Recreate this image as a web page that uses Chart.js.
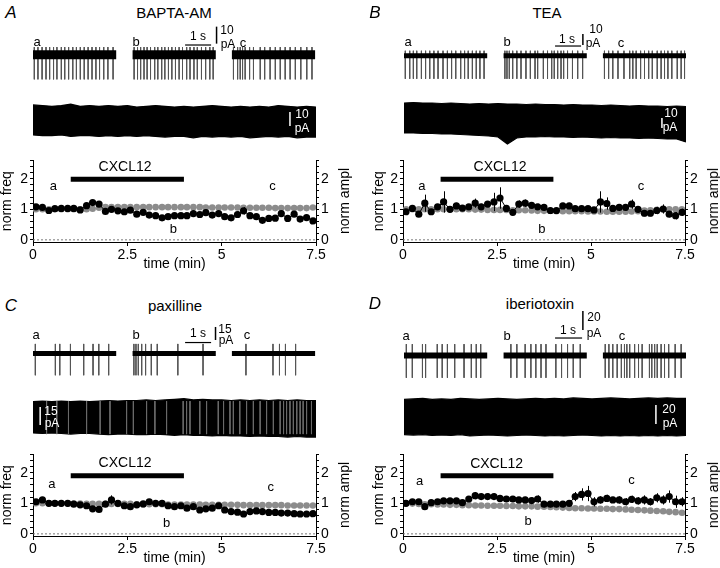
<!DOCTYPE html>
<html>
<head>
<meta charset="utf-8">
<script src="https://cdn.jsdelivr.net/npm/chart.js@4.4.1/dist/chart.umd.min.js"></script>
<style>
  body { margin: 0; width: 720px; height: 568px; position: relative; overflow: hidden; background: #fff;
         font-family: "Liberation Sans", Arial, sans-serif; }
  canvas { position: absolute; }
  .t { position: absolute; white-space: nowrap; line-height: 1; color: #000; }
</style>
</head>
<body>
<script>
// 10 s bin centres (min)
var binTimes = [0.08,0.25,0.42,0.58,0.75,0.92,1.08,1.25,1.42,1.58,1.75,1.92,2.08,2.25,2.42,2.58,2.75,2.92,3.08,3.25,3.42,3.58,3.75,3.92,4.08,4.25,4.42,4.58,4.75,4.92,5.08,5.25,5.42,5.58,5.75,5.92,6.08,6.25,6.42,6.58,6.75,6.92,7.08,7.25,7.42];
var xTicks = [0, 2.5, 5, 7.5];
var yTicks = [0,0.2,0.4,0.6,0.8,1,1.2,1.4,1.6,1.8,2,2.2,2.4,2.6];
var stimWindow = [1, 4];

// A - BAPTA-AM
var freqA = [1.08,1.06,0.96,1.02,1.03,1.03,1.03,0.98,1.12,1.22,1.17,0.93,1.0,0.95,0.92,0.97,0.84,0.9,0.81,0.79,0.72,0.76,0.79,0.79,0.79,0.86,0.83,0.89,0.81,0.86,0.76,0.72,0.83,0.95,0.79,0.76,0.64,0.7,0.71,0.86,0.7,0.84,0.68,0.73,0.62];
var freqErrA = [0.04,0.04,0.04,0.03,0.03,0.03,0.03,0.04,0.05,0.06,0.05,0.05,0.05,0.05,0.06,0.06,0.06,0.06,0.06,0.06,0.06,0.06,0.06,0.06,0.07,0.08,0.08,0.1,0.08,0.08,0.08,0.08,0.1,0.12,0.08,0.08,0.07,0.07,0.08,0.1,0.08,0.08,0.08,0.08,0.07];
var amplA = [1.0,1.0,1.0,1.0,1.0,1.0,1.0,1.0,1.0,1.02,1.05,1.07,1.07,1.07,1.07,1.07,1.07,1.07,1.07,1.07,1.07,1.07,1.07,1.07,1.07,1.07,1.07,1.06,1.06,1.06,1.06,1.06,1.06,1.05,1.05,1.05,1.05,1.05,1.04,1.04,1.04,1.04,1.04,1.04,1.06];
var amplErrA = [0.04,0.04,0.04,0.04,0.04,0.04,0.04,0.04,0.05,0.05,0.05,0.05,0.05,0.05,0.05,0.05,0.05,0.05,0.05,0.05,0.05,0.05,0.05,0.05,0.05,0.05,0.05,0.05,0.05,0.05,0.05,0.05,0.05,0.05,0.05,0.05,0.05,0.05,0.05,0.05,0.05,0.05,0.05,0.05,0.06];

// B - TEA
var freqB = [0.92,1.03,0.84,1.2,0.92,1.08,1.24,1.0,1.11,1.04,1.08,1.2,1.08,1.17,1.24,1.37,1.03,0.9,1.17,1.2,1.13,1.08,1.06,0.96,0.96,1.11,1.11,1.02,1.02,1.02,0.98,1.24,1.19,1.03,1.06,1.06,1.17,1.0,0.87,0.87,0.96,1.01,0.84,0.79,0.9];
var freqErrB = [0.08,0.1,0.08,0.28,0.08,0.08,0.35,0.08,0.1,0.08,0.08,0.15,0.1,0.1,0.3,0.35,0.1,0.08,0.12,0.12,0.1,0.1,0.1,0.08,0.08,0.1,0.1,0.08,0.08,0.08,0.08,0.35,0.2,0.1,0.1,0.1,0.15,0.1,0.1,0.1,0.12,0.15,0.1,0.12,0.12];
var amplB = [1.0,1.0,1.0,1.0,1.0,1.0,1.0,1.0,1.0,1.0,1.0,0.99,0.99,0.98,0.98,0.98,0.98,0.97,0.97,0.97,0.96,0.95,0.95,0.95,0.94,0.94,0.94,0.94,0.94,0.93,0.93,0.93,0.92,0.92,0.92,0.92,0.93,0.94,0.96,0.97,0.98,0.99,1.0,1.0,1.0];
var amplErrB = [0.04,0.04,0.04,0.04,0.04,0.04,0.04,0.04,0.04,0.04,0.04,0.04,0.04,0.04,0.04,0.04,0.04,0.04,0.04,0.04,0.04,0.04,0.04,0.04,0.04,0.04,0.04,0.04,0.04,0.04,0.04,0.04,0.04,0.04,0.04,0.04,0.04,0.04,0.04,0.04,0.04,0.04,0.04,0.04,0.04];

// C - paxilline
var freqC = [1.05,1.11,1.0,1.0,1.0,1.0,0.97,0.95,0.92,0.82,0.8,0.97,1.11,1.0,0.92,0.89,0.95,0.98,1.05,1.0,1.0,0.92,0.89,0.92,0.84,0.89,0.78,0.82,0.84,0.92,0.78,0.73,0.71,0.65,0.73,0.75,0.73,0.7,0.7,0.68,0.68,0.66,0.65,0.65,0.66];
var freqErrC = [0.04,0.05,0.04,0.04,0.04,0.04,0.04,0.05,0.05,0.06,0.06,0.08,0.15,0.08,0.06,0.06,0.06,0.06,0.07,0.06,0.06,0.06,0.06,0.06,0.06,0.07,0.08,0.07,0.07,0.1,0.08,0.08,0.07,0.07,0.08,0.08,0.07,0.07,0.06,0.06,0.06,0.06,0.06,0.06,0.06];
var amplC = [1.0,1.0,1.0,1.0,0.99,0.99,0.99,0.99,0.98,0.98,0.98,0.98,0.98,0.98,0.98,0.98,0.97,0.97,0.97,0.97,0.97,0.96,0.96,0.96,0.96,0.96,0.96,0.95,0.95,0.95,0.95,0.95,0.95,0.94,0.94,0.94,0.94,0.94,0.94,0.94,0.93,0.93,0.93,0.93,0.93];
var amplErrC = [0.03,0.03,0.03,0.03,0.03,0.03,0.03,0.03,0.03,0.03,0.03,0.03,0.03,0.03,0.03,0.03,0.03,0.03,0.03,0.03,0.03,0.03,0.03,0.03,0.03,0.03,0.03,0.03,0.03,0.03,0.03,0.03,0.03,0.03,0.03,0.03,0.03,0.03,0.03,0.03,0.03,0.03,0.03,0.03,0.03];

// D - iberiotoxin
var freqD = [1.0,1.05,1.05,0.89,1.02,1.05,1.08,1.08,1.08,1.02,1.14,1.25,1.22,1.22,1.22,1.16,1.14,1.14,1.11,1.11,1.09,1.14,0.97,0.97,0.97,0.97,1.0,1.22,1.29,1.32,1.05,1.11,1.16,1.11,1.11,1.05,1.13,1.08,1.11,1.05,1.18,1.11,1.22,1.05,1.05];
var freqErrD = [0.04,0.05,0.05,0.06,0.05,0.05,0.06,0.06,0.06,0.06,0.08,0.12,0.1,0.1,0.1,0.1,0.1,0.1,0.1,0.1,0.1,0.12,0.1,0.1,0.1,0.1,0.1,0.15,0.2,0.25,0.15,0.12,0.12,0.1,0.12,0.12,0.12,0.12,0.15,0.12,0.15,0.15,0.2,0.2,0.15];
var amplD = [1.0,0.99,0.98,0.97,0.97,0.96,0.96,0.95,0.95,0.94,0.94,0.93,0.93,0.92,0.92,0.92,0.91,0.91,0.9,0.9,0.9,0.89,0.89,0.88,0.87,0.86,0.85,0.84,0.84,0.83,0.83,0.82,0.82,0.81,0.81,0.8,0.79,0.78,0.77,0.76,0.75,0.74,0.72,0.71,0.69];
var amplErrD = [0.03,0.03,0.03,0.03,0.03,0.03,0.03,0.03,0.03,0.03,0.03,0.03,0.03,0.03,0.03,0.03,0.03,0.03,0.03,0.03,0.03,0.03,0.03,0.03,0.03,0.03,0.03,0.03,0.03,0.03,0.03,0.03,0.03,0.03,0.03,0.03,0.03,0.03,0.03,0.03,0.03,0.03,0.03,0.03,0.03];

// spike times (s) inside the excerpts a, b, c
var spikesA = [
  [0.05,0.19,0.35,0.5,0.64,0.79,0.92,1.09,1.22,1.37,1.53,1.67,1.82,1.97,2.12,2.27,2.42,2.56,2.72,2.88,3.08],
  [0.06,0.19,0.31,0.44,0.56,0.69,0.85,0.97,1.12,1.24,1.38,1.51,1.65,1.79,1.92,2.08,2.21,2.36,2.49,2.65,2.81,2.97,3.1],
  [0.06,0.22,0.32,0.41,0.51,0.68,0.83,1.09,1.26,1.47,1.67,1.86,2.05,2.24,2.44,2.65,2.88,3.08]
];
var spikesB = [
  [0.05,0.22,0.36,0.49,0.67,0.83,0.99,1.15,1.31,1.5,1.67,1.83,1.99,2.18,2.33,2.47,2.63,2.78,2.92,3.08],
  [0.05,0.13,0.22,0.35,0.51,0.67,0.86,1.03,1.21,1.31,1.53,1.69,1.85,1.95,2.08,2.21,2.31,2.46,2.65,2.85,3.04],
  [0.06,0.22,0.38,0.58,0.81,1.03,1.15,1.28,1.45,1.6,1.76,1.9,2.09,2.24,2.37,2.5,2.65,2.86,3.01,3.14]
];
var spikesC = [
  [0.09,0.86,1.03,1.44,1.95,2.31,2.53,2.91],
  [0.05,0.13,0.22,0.35,0.5,0.72,0.95,1.74,2.71],
  [0.54,1.58,1.83,2.06,2.45]
];
var spikesD = [
  [0.09,0.32,0.71,0.83,1.28,1.47,1.67,1.95,2.31,2.59,2.78,2.95],
  [0.28,0.51,0.83,1.05,1.24,1.44,1.63,2.01,2.23,2.46,2.68,2.95],
  [0.09,0.23,0.38,0.55,0.71,0.83,0.92,1.03,1.22,1.37,1.51,1.79,1.88,1.99,2.09,2.24,2.37,2.53,2.78,3.01]
];
var segStart = [0, 3.83, 7.65];   // s
var segLength = 3.2;             // s
var spikeUp = [4.5, 4.5, 11, 12];        // pA
var spikeDown = [-14.5, -21, -25, -23.5]; // pA

// whole recording: envelope of the current (pA around mean)
var longTimes = [0,0.25,0.5,0.75,1,1.25,1.5,1.75,2,2.25,2.5,2.75,3,3.25,3.5,3.75,4,4.25,4.5,4.75,5,5.25,5.5,5.75,6,6.25,6.5,6.75,7,7.25,7.5];
var longTopA = [11.5,11,10.5,11,12,10.5,11,10.5,11,10.5,11,10,10.5,11,10.5,10,10.5,10,10.5,11,10.5,10,10.5,10,10.5,10,11,10.5,10,10.5,10];
var longBotA = [-10,-10.5,-10.5,-10,-11,-10.5,-10.5,-11,-10.5,-11,-10.5,-11,-10.5,-11,-11.5,-11,-11,-12,-11,-11.5,-11,-11.5,-11,-12,-11.5,-11,-11.5,-11,-12,-11.5,-11.5];
var longTopB = [16,16.5,16,16,15.5,16,15.5,15,15.5,15,15.5,15,15,14.5,15,14.5,14.5,14,14.5,14,14,13.5,14,13.5,13,13.5,13,13,12.5,13,12.5];
var longBotB = [-14,-14,-14.5,-14.5,-15,-15,-15.5,-16,-16.5,-17,-18,-25,-19,-18,-18,-17.5,-18,-18,-18.5,-18,-18.5,-19,-18.5,-19,-19,-19.5,-19,-19.5,-20,-20,-23];
var longTopC = [14,14.5,14,14.5,14,14.5,14,14.5,15,14.5,15,15,15.5,15,15.5,16,16.5,15.5,16,15.5,15.5,15,15.5,15,15.5,15,15.5,15,15.5,15,15];
var longBotC = [-12,-12.5,-12,-12.5,-13,-12.5,-12.5,-13,-13.5,-13,-13,-13.5,-13.5,-13,-13.5,-14,-13.5,-14,-14,-14.5,-14,-14.5,-14.5,-15,-14.5,-15,-15,-15.5,-15,-15.5,-15.5];
var longTopD = [18,18.5,19,18,18.5,18,19,18.5,18,18.5,19,18.5,18,18.5,19,18.5,19,18.5,19.5,19,18.5,19,19.5,19,18.5,19,19.5,19,19.5,19,19];
var longBotD = [-19,-19.5,-19,-20,-19.5,-20,-19,-20.5,-20,-19.5,-20,-20.5,-20,-19.5,-20,-20.5,-20,-20.5,-20,-19.5,-20,-20.5,-20,-20.5,-20,-20.5,-20,-20.5,-20,-20.5,-20];
var longSpikesC = [0.36,0.63,0.94,1.42,1.78,2.04,2.48,2.66,3.01,3.23,3.54,3.98,4.07,4.16,4.42,4.6,4.91,5.05,5.22,5.31,5.48,5.66,5.84,6.02,6.19,6.37,6.55,6.64,6.72,6.81,6.9,6.99,7.08,7.16,7.25,7.38];

Chart.defaults.font.family = '"Liberation Sans", Arial, sans-serif';
Chart.defaults.font.weight = 'normal';
Chart.defaults.color = '#000';

var pxPerSecond = 26;

var panels = [
  { letter: 'A', title: 'BAPTA-AM', head: [11, 12, 174, 12],
    freq: freqA, freqErr: freqErrA, ampl: amplA, amplErr: amplErrA,
    spikes: spikesA, up: spikeUp[0], down: spikeDown[0],
    top: longTopA, bot: longBotA, longSpikes: null,
    short: { left: 33, top: 20, w: 283, h: 70, base: 34.7, ppa: 1.7, band: 9,
             sx: [5.85, 6.85], sy: 5.7, vx: 7.06, vy: [6.5, 16.5] },
    shortText: [['a', 37, 41], ['b', 136, 41], ['c', 243, 42], ['1 s', 198, 36], ['10', 227, 30], ['pA', 228, 44]],
    long: { left: 33, top: 95, w: 283, h: 50, mid: 26, ppa: 1.4, bx: 6.81, by: [6.4, -3.6] },
    longText: [['10', 302, 114], ['pA', 302, 128]],
    chart: { left: 0, top: 150, leftW: 33, rightW: 44, titlePad: 0.5, stimY: 1.98,
             notes: [['CXCL12', 2.44, 2.39], ['a', 0.54, 1.76], ['b', 3.72, 0.33], ['c', 6.35, 1.76]] },
    ampTitle: [344, 201] },
  { letter: 'B', title: 'TEA', head: [375, 12, 547, 12],
    freq: freqB, freqErr: freqErrB, ampl: amplB, amplErr: amplErrB,
    spikes: spikesB, up: spikeUp[1], down: spikeDown[1],
    top: longTopB, bot: longBotB, longSpikes: null,
    short: { left: 404, top: 20, w: 282, h: 70, base: 35.7, ppa: 1.1, band: 5,
             sx: [5.81, 6.81], sy: 8.8, vx: 6.88, vy: [9.7, 19.7] },
    shortText: [['a', 408, 41], ['b', 507, 41], ['c', 621, 42], ['1 s', 567, 39], ['10', 596, 29], ['pA', 593, 43]],
    long: { left: 404, top: 95, w: 282, h: 55, mid: 24, ppa: 1.0, bx: 6.86, by: [1, -9] },
    longText: [['10', 671, 113], ['pA', 670, 127]],
    chart: { left: 360, top: 150, leftW: 43, rightW: 35, titlePad: 12, stimY: 1.98,
             notes: [['CXCL12', 2.58, 2.39], ['a', 0.5, 1.76], ['b', 3.69, 0.35], ['c', 6.33, 1.76]] },
    ampTitle: [713, 201] },
  { letter: 'C', title: 'paxilline', head: [11, 305, 175, 305],
    freq: freqC, freqErr: freqErrC, ampl: amplC, amplErr: amplErrC,
    spikes: spikesC, up: spikeUp[2], down: spikeDown[2],
    top: longTopC, bot: longBotC, longSpikes: longSpikesC,
    short: { left: 33, top: 315, w: 283, h: 70, base: 38.5, ppa: 0.87, band: 5,
             sx: [5.85, 6.85], sy: 12.6, vx: 7.02, vy: [15.5, 30.5] },
    shortText: [['a', 36, 334], ['b', 136, 334], ['c', 247, 334], ['1 s', 198, 333], ['15', 225, 329], ['pA', 226, 340]],
    long: { left: 33, top: 392, w: 283, h: 50, mid: 26.5, ppa: 1.2, bx: 0.19, by: [9.6, -5.4] },
    longText: [['15', 51, 411], ['pA', 52, 423]],
    chart: { left: 0, top: 444, leftW: 33, rightW: 44, titlePad: 0.5, stimY: 1.9,
             notes: [['CXCL12', 2.44, 2.33], ['a', 0.5, 1.63], ['b', 3.54, 0.35], ['c', 6.3, 1.53]] },
    ampTitle: [344, 495] },
  { letter: 'D', title: 'iberiotoxin', head: [375, 303, 540, 303],
    freq: freqD, freqErr: freqErrD, ampl: amplD, amplErr: amplErrD,
    spikes: spikesD, up: spikeUp[3], down: spikeDown[3],
    top: longTopD, bot: longBotD, longSpikes: null,
    short: { left: 404, top: 305, w: 282, h: 80, base: 50.5, ppa: 0.95, band: 6,
             sx: [5.81, 6.85], sy: 18.4, vx: 6.88, vy: [26.8, 46.8] },
    shortText: [['a', 406, 335], ['b', 507, 335], ['c', 622, 335], ['1 s', 568, 330], ['20', 594, 317], ['pA', 594, 333]],
    long: { left: 404, top: 390, w: 282, h: 50, mid: 26.5, ppa: 0.95, bx: 6.7, by: [12.1, -7.9] },
    longText: [['20', 669, 409], ['pA', 670, 423]],
    chart: { left: 360, top: 444, leftW: 43, rightW: 35, titlePad: 12, stimY: 1.9,
             notes: [['CXCL12', 2.49, 2.29], ['a', 0.44, 1.7], ['b', 3.33, 0.4], ['c', 6.08, 1.75]] },
    ampTitle: [713, 495] }
];

function makeCanvas(left, top, w, h) {
  var c = document.createElement('canvas');
  c.width = w; c.height = h;
  c.style.left = left + 'px'; c.style.top = top + 'px';
  c.style.width = w + 'px'; c.style.height = h + 'px';
  document.body.appendChild(c);
  return c;
}

function addText(txt, x, y, size, extra) {
  var d = document.createElement('div');
  d.className = 't';
  d.textContent = txt;
  d.style.left = x + 'px';
  d.style.top = y + 'px';
  d.style.fontSize = size + 'px';
  var tr = 'translate(-50%,-50%)';
  if (extra && extra.italic) d.style.fontStyle = 'italic';
  if (extra && extra.color) d.style.color = extra.color;
  if (extra && extra.rot) tr += ' rotate(-90deg)';
  d.style.transform = tr;
  document.body.appendChild(d);
}

function seg(x1, y1, x2, y2) {
  return [{ x: x1, y: y1 }, { x: x2, y: y2 }];
}

var baseOpts = function (xmax, ymin, ymax) {
  return {
    responsive: false, animation: false, devicePixelRatio: 1,
    layout: { padding: 0 },
    plugins: { legend: { display: false }, tooltip: { enabled: false } },
    elements: { point: { radius: 0 }, line: { tension: 0 } },
    scales: {
      x: { type: 'linear', display: false, min: 0, max: xmax },
      y: { display: false, min: ymin, max: ymax }
    }
  };
};

// three short excerpts
function shortTraces(p) {
  var g = p.short;
  var cv = makeCanvas(g.left, g.top, g.w, g.h);
  var base = [], spk = [];
  p.spikes.forEach(function (list, k) {
    var s0 = segStart[k];
    base.push({ x: s0, y: 0 }, { x: s0 + segLength, y: 0 }, { x: s0 + segLength, y: null });
    list.forEach(function (t) {
      spk.push({ x: s0 + t, y: p.up }, { x: s0 + t, y: p.down }, { x: s0 + t, y: null });
    });
  });
  new Chart(cv, {
    type: 'line',
    data: { datasets: [
      { data: seg(g.sx[0], g.sy, g.sx[1], g.sy), borderColor: '#000', borderWidth: 1.2 },
      { data: seg(g.vx, g.vy[0], g.vx, g.vy[1]), borderColor: '#000', borderWidth: 1.5 },
      { data: base, borderColor: '#000', borderWidth: g.band, borderCapStyle: 'butt' },
      { data: spk, borderColor: '#555', borderWidth: 1 }
    ] },
    options: baseOpts(g.w / pxPerSecond, -(g.h - g.base) / g.ppa, g.base / g.ppa)
  });
  p.shortText.forEach(function (s) { addText(s[0], s[1], s[2], s[0].length === 1 ? 13 : 12); });
}

// whole recording
function longTrace(p) {
  var g = p.long;
  var cv = makeCanvas(g.left, g.top, g.w, g.h);
  var upper = longTimes.map(function (t, i) { return { x: t, y: p.top[i] }; });
  var lower = longTimes.map(function (t, i) { return { x: t, y: p.bot[i] }; });
  var overlay = [];
  (p.longSpikes || []).forEach(function (t) {
    overlay.push({ x: t, y: 14.5 }, { x: t, y: -13 }, { x: t, y: null });
  });
  new Chart(cv, {
    type: 'line',
    data: { datasets: [
      { data: seg(g.bx, g.by[0], g.bx, g.by[1]), borderColor: '#fff', borderWidth: 1.5 },
      { data: overlay, borderColor: '#6a6a6a', borderWidth: 1 },
      { data: upper, borderColor: '#000', borderWidth: 1.2, fill: false },
      { data: lower, borderColor: '#000', borderWidth: 1.2, fill: '-1', backgroundColor: '#000' }
    ] },
    options: baseOpts(7.5, -(g.h - g.mid) / g.ppa, g.mid / g.ppa)
  });
  p.longText.forEach(function (s) { addText(s[0], s[1], s[2], 12, { color: '#fff' }); });
}

var errorBars = {
  id: 'errorBars',
  beforeDatasetDraw: function (chart, args) {
    var ds = chart.data.datasets[args.index];
    if (!ds.errors) return;
    var ctx = chart.ctx, xs = chart.scales.x, ys = chart.scales.y;
    ctx.save();
    ctx.strokeStyle = ds.borderColor;
    ctx.lineWidth = 1;
    ds.data.forEach(function (pt, i) {
      var x = Math.round(xs.getPixelForValue(pt.x)) + 0.5;
      ctx.beginPath();
      ctx.moveTo(x, ys.getPixelForValue(pt.y - ds.errors[i]));
      ctx.lineTo(x, ys.getPixelForValue(pt.y + ds.errors[i]));
      ctx.stroke();
    });
    ctx.restore();
  }
};

var notes = {
  id: 'notes',
  afterDatasetsDraw: function (chart, args, opts) {
    var ctx = chart.ctx, xs = chart.scales.x, ys = chart.scales.y;
    ctx.save();
    ctx.fillStyle = '#000';
    ctx.textAlign = 'center';
    ctx.textBaseline = 'middle';
    (opts.items || []).forEach(function (n) {
      ctx.font = (n[0].length > 1 ? 14 : 13) + 'px "Liberation Sans", Arial, sans-serif';
      ctx.fillText(n[0], xs.getPixelForValue(n[1]), ys.getPixelForValue(n[2]));
    });
    ctx.restore();
  }
};

function intLabel(v) {
  return Math.abs(v - Math.round(v)) < 1e-6 ? String(Math.round(v)) : '';
}

function yAxis(pos, width, title, pad) {
  return {
    position: pos, min: -0.07, max: 2.6,
    afterBuildTicks: function (s) { s.ticks = yTicks.map(function (v) { return { value: v }; }); },
    afterFit: function (s) { s.width = width; },
    grid: { drawOnChartArea: false, tickLength: 3, color: '#000' },
    border: { color: '#000', width: 1 },
    ticks: { autoSkip: false, font: { size: 14, weight: 'normal' }, padding: 2, callback: intLabel },
    title: { display: !!title, text: title || '', font: { size: 14, lineHeight: 1, weight: 'normal' },
             padding: { top: pad, bottom: 0 } }
  };
}

function mainChart(p) {
  var g = p.chart;
  var cv = makeCanvas(g.left, g.top, 360, 122);
  var freqPts = binTimes.map(function (t, i) { return { x: t, y: p.freq[i] }; });
  var amplPts = binTimes.map(function (t, i) { return { x: t, y: p.ampl[i] }; });
  new Chart(cv, {
    type: 'line',
    data: { datasets: [
      { data: freqPts, errors: p.freqErr, yAxisID: 'y', borderColor: '#000', backgroundColor: '#000',
        borderWidth: 1, pointRadius: 3.6, pointBorderWidth: 0 },
      { data: amplPts, errors: p.amplErr, yAxisID: 'y', borderColor: '#8c8c8c', backgroundColor: '#8c8c8c',
        borderWidth: 1, pointRadius: 3.3, pointBorderWidth: 0 },
      { data: seg(stimWindow[0], g.stimY, stimWindow[1], g.stimY), yAxisID: 'y', borderColor: '#000',
        borderWidth: 5, pointRadius: 0, borderCapStyle: 'butt' },
      { data: seg(0, 0, 7.5, 0), yAxisID: 'y', borderColor: '#777', borderWidth: 1,
        borderDash: [2, 2], pointRadius: 0 }
    ] },
    options: {
      responsive: false, animation: false, devicePixelRatio: 1,
      layout: { padding: { top: 10, left: 0, right: 0, bottom: 0 } },
      elements: { line: { tension: 0 } },
      plugins: { legend: { display: false }, tooltip: { enabled: false }, notes: { items: g.notes } },
      scales: {
        x: {
          type: 'linear', min: 0, max: 7.5, position: 'bottom',
          afterBuildTicks: function (s) { s.ticks = xTicks.map(function (v) { return { value: v }; }); },
          afterFit: function (s) { s.height = 30; },
          grid: { drawOnChartArea: false, tickLength: 4, color: '#000' },
          border: { color: '#000', width: 1 },
          ticks: { autoSkip: false, maxRotation: 0, font: { size: 14, weight: 'normal' }, padding: 1,
                   callback: function (v) { return String(v); } },
          title: { display: true, text: 'time (min)', font: { size: 14, lineHeight: 1, weight: 'normal' },
                   padding: { top: 0, bottom: 1 } }
        },
        y: yAxis('left', g.leftW, 'norm freq', g.titlePad),
        y2: yAxis('right', g.rightW, null, 0)
      }
    },
    plugins: [errorBars, notes]
  });
  addText('norm ampl', p.ampTitle[0], p.ampTitle[1], 14, { rot: true });
}

panels.forEach(function (p) {
  addText(p.letter, p.head[0], p.head[1], 17, { italic: true });
  addText(p.title, p.head[2], p.head[3], 15);
  shortTraces(p);
  longTrace(p);
  mainChart(p);
});
</script>
</body>
</html>
